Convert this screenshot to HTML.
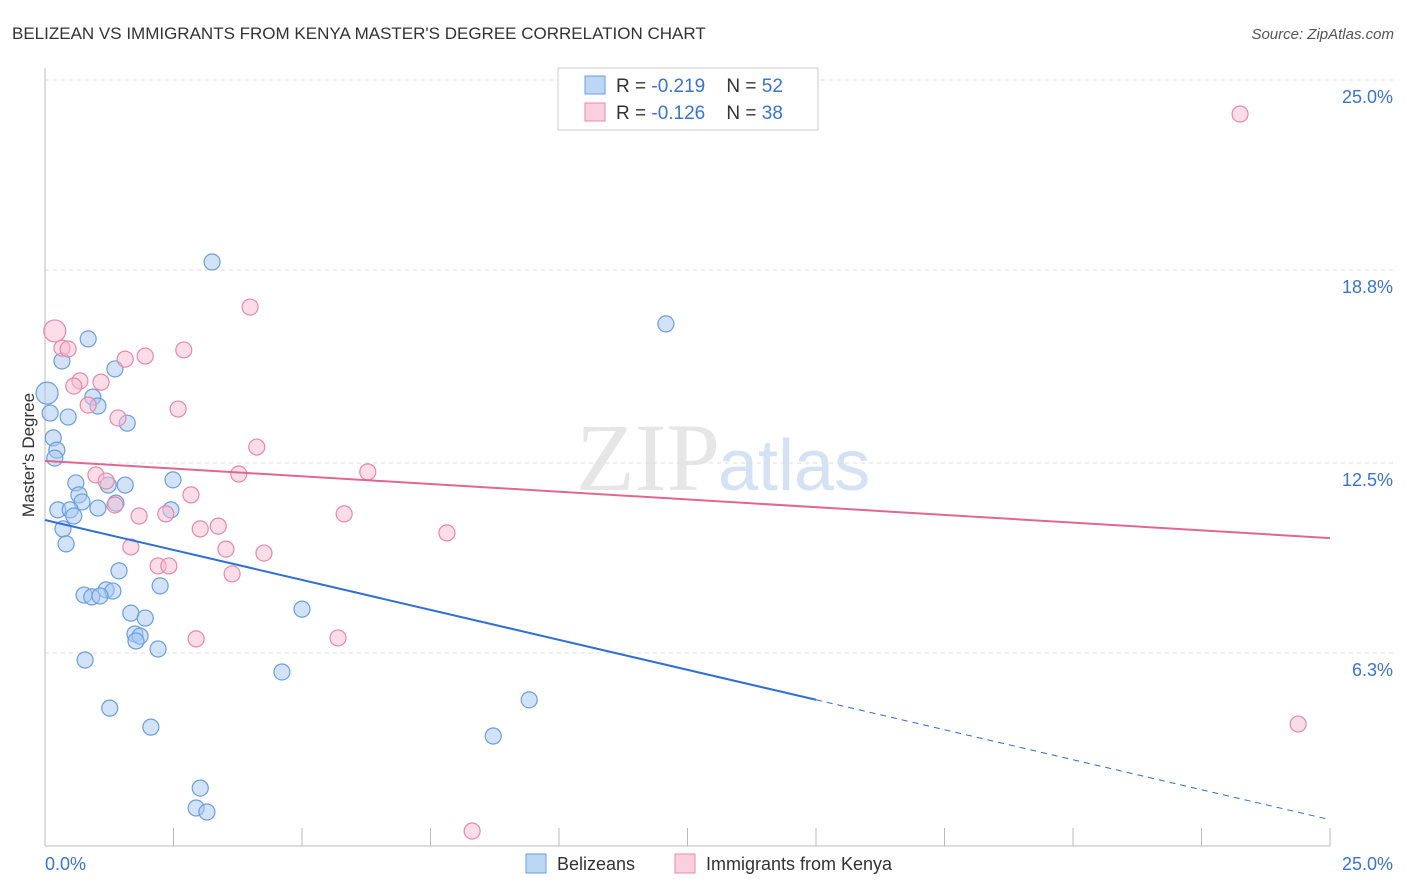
<!DOCTYPE html>
<html><head><meta charset="utf-8"><style>
body{margin:0;background:#fff;font-family:"Liberation Sans",sans-serif}
svg{display:block}
</style></head><body>
<svg id="chart" width="1406" height="892">
<text x="12" y="39" font-size="17" fill="#333">BELIZEAN VS IMMIGRANTS FROM KENYA MASTER'S DEGREE CORRELATION CHART</text>
<text x="1394" y="39" font-size="15" fill="#555" font-style="italic" text-anchor="end">Source: ZipAtlas.com</text>
<text x="720" y="490" font-size="96" fill="#e6e6e6" text-anchor="end" font-family="Liberation Serif">ZIP</text>
<text x="718" y="490" font-size="72" fill="#d4e2f4">atlas</text>
<g id="grid"></g>
<g id="axes"></g>
<g id="marks"></g>
<text x="34" y="455" font-size="17" fill="#333" text-anchor="middle" transform="rotate(-90 34 455)">Master's Degree</text>
<g>
<rect x="558" y="68" width="260" height="62" fill="#fff" stroke="#ccc"/>
<rect x="585" y="76" width="20" height="18" fill="#bcd6f5" stroke="#6a9ee0"/>
<text x="616" y="92" font-size="19" fill="#333">R = <tspan fill="#3b73d1">-0.219</tspan>&#160;&#160;&#160; N = <tspan fill="#3b73d1">52</tspan></text>
<rect x="585" y="103" width="20" height="18" fill="#fbd0de" stroke="#e888a8"/>
<text x="616" y="119" font-size="19" fill="#333">R = <tspan fill="#3b73d1">-0.126</tspan>&#160;&#160;&#160; N = <tspan fill="#3b73d1">38</tspan></text>
</g>
<g>
<rect x="526" y="854" width="20" height="19" fill="#bcd6f5" stroke="#6a9ee0"/>
<text x="557" y="870" font-size="18" fill="#333">Belizeans</text>
<rect x="675" y="854" width="20" height="19" fill="#fbd0de" stroke="#e888a8"/>
<text x="706" y="870" font-size="18" fill="#333">Immigrants from Kenya</text>
</g>
</svg>
<script>
const yTicks=[25.0,18.8,12.5,6.3];
const yTickLabels=["25.0%","18.8%","12.5%","6.3%"];
const xTickLabels=["0.0%","25.0%"];
const blueX=[3.25,12.08,0.84,0.33,1.36,0.04,0.93,1.03,0.10,0.45,1.60,0.16,0.23,0.19,2.49,0.60,1.23,1.56,0.66,0.72,1.38,0.25,0.49,1.03,2.45,0.56,0.35,0.41,1.44,2.24,1.19,1.32,0.76,0.91,1.07,5.0,1.67,1.95,1.75,1.85,1.77,2.20,0.78,4.61,9.42,1.26,2.06,8.72,3.02,2.94,3.15];
const blueY=[19.06,17.04,16.55,15.83,15.57,14.78,14.65,14.36,14.13,14.0,13.8,13.32,12.92,12.66,11.95,11.85,11.78,11.78,11.46,11.23,11.19,10.97,10.97,11.03,10.97,10.77,10.35,9.86,8.98,8.49,8.36,8.32,8.19,8.13,8.16,7.73,7.60,7.44,6.92,6.85,6.69,6.43,6.07,5.68,4.77,4.5,3.88,3.59,1.89,1.24,1.11];
const pinkX=[23.25,3.99,0.19,0.33,0.45,2.70,1.95,1.56,0.68,1.09,0.56,0.84,2.59,1.42,4.12,0.99,3.77,6.28,1.19,2.84,1.36,1.83,2.35,5.82,3.02,3.37,7.82,1.67,3.52,4.26,2.20,2.41,3.64,2.94,5.70,24.38,8.31];
const pinkY=[23.89,17.59,16.81,16.25,16.22,16.19,15.99,15.89,15.18,15.14,15.01,14.39,14.26,13.97,13.02,12.11,12.14,12.21,11.91,11.46,11.13,10.77,10.84,10.84,10.35,10.44,10.22,9.76,9.69,9.56,9.14,9.14,8.88,6.76,6.79,3.98,0.49];
const blueTrend=[10.64,0.86];
const pinkTrend=[12.57,10.05];
const blueSolidEnd=15;

const NS="http://www.w3.org/2000/svg";
const X0=45,X1=1330,Y0=846,Y1=80;
const sx=v=>X0+(v/25)*(X1-X0);
const sy=v=>Y0-(v/25)*(Y0-Y1);
function mk(tag,attrs,parent){const e=document.createElementNS(NS,tag);for(const k in attrs)e.setAttribute(k,attrs[k]);parent.appendChild(e);return e;}
const grid=document.getElementById('grid'),axes=document.getElementById('axes'),marks=document.getElementById('marks');
yTicks.forEach((t,i)=>{
  const l=mk('line',{x1:X0,x2:1394,y1:sy(t),y2:sy(t),stroke:'#ddd','stroke-dasharray':'4,4'},grid);
  
  
  const tx=mk('text',{x:1393,y:sy(t)+23,'font-size':18,fill:'#3b73d1','text-anchor':'end'},axes);
  tx.textContent=yTickLabels[i];
  
  
});
const ax=mk('line',{x1:X0,x2:X1,y1:Y0,y2:Y0,stroke:'#bbb'},axes);


const ay=mk('line',{x1:X0,x2:X0,y1:68,y2:Y0,stroke:'#bbb'},axes);


for(let i=1;i<=10;i++){
  const t=mk('line',{x1:sx(i*2.5),x2:sx(i*2.5),y1:828,y2:Y0,stroke:'#bbb'},axes);
  
  
}
const xl0=mk('text',{x:45,y:870,'font-size':18,fill:'#3b73d1'},axes);xl0.textContent=xTickLabels[0];


const xl1=mk('text',{x:1393,y:870,'font-size':18,fill:'#3b73d1','text-anchor':'end'},axes);xl1.textContent=xTickLabels[1];


function pts(xs,ys,fill,stroke,name){
  xs.forEach((x,i)=>{
    const big=x<0.25&&i<6;
    const c=mk('circle',{cx:sx(x),cy:sy(ys[i]),r:big?11:8,fill:fill,'fill-opacity':0.5,stroke:stroke,'stroke-width':1.2},marks);
    
    
  });
}
pts(blueX,blueY,'#a8c8f0','#6a9ee0','point-belizeans');
pts(pinkX,pinkY,'#f7bcd0','#e888a8','point-kenya');
const bAt=x=>blueTrend[0]+(blueTrend[1]-blueTrend[0])*x/25;
const bl=mk('line',{x1:sx(0),y1:sy(bAt(0)),x2:sx(blueSolidEnd),y2:sy(bAt(blueSolidEnd)),stroke:'#2f6fd6','stroke-width':2},marks);


const bd=mk('line',{x1:sx(blueSolidEnd),y1:sy(bAt(blueSolidEnd)),x2:sx(25),y2:sy(bAt(25)),stroke:'#2f6fd6','stroke-width':1,'stroke-dasharray':'6,5'},marks);


const pl=mk('line',{x1:sx(0),y1:sy(pinkTrend[0]),x2:sx(25),y2:sy(pinkTrend[1]),stroke:'#e06890','stroke-width':2},marks);


</script>
</body></html>
